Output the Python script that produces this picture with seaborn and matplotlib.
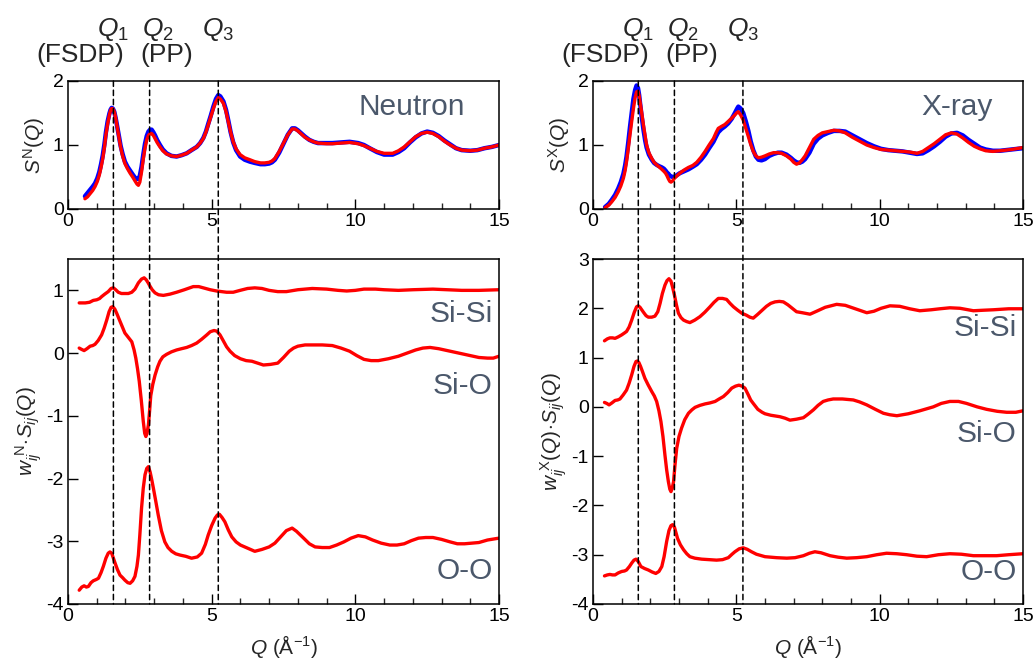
import numpy as np
import pandas as pd
import matplotlib
matplotlib.use("Agg")
import matplotlib.pyplot as plt
import matplotlib.transforms as mtrans
from matplotlib.patches import ConnectionPatch
from matplotlib.ticker import MultipleLocator
import seaborn as sns

# ---------------- data ----------------
# Neutron total structure factor S^N(Q)  (red = model, blue = experiment)
qN_top = [0.59, 0.68, 0.77, 0.86, 0.94, 1.02, 1.09, 1.15, 1.21, 1.27, 1.32, 1.38, 1.44, 1.48, 1.52, 1.56,
          1.61, 1.66, 1.72, 1.78, 1.83, 1.90, 1.98, 2.07, 2.16, 2.25, 2.33, 2.40, 2.45, 2.50, 2.56, 2.62,
          2.68, 2.74, 2.80, 2.86, 2.91, 2.97, 3.03, 3.10, 3.20, 3.30, 3.43, 3.60, 3.78, 3.95, 4.13, 4.30,
          4.48, 4.60, 4.71, 4.80, 4.88, 4.97, 5.06, 5.15, 5.23, 5.30, 5.41, 5.50, 5.58, 5.66, 5.75, 5.85,
          5.99, 6.15, 6.33, 6.50, 6.70, 6.85, 7.00, 7.10, 7.20, 7.35, 7.50, 7.65, 7.80, 7.90, 8.00, 8.10,
          8.25, 8.40, 8.55, 8.70, 9.00, 9.20, 9.50, 9.80, 10.1, 10.3, 10.5, 10.75, 11.0, 11.3, 11.5, 11.7,
          11.9, 12.1, 12.3, 12.5, 12.7, 12.9, 13.1, 13.3, 13.5, 13.7, 14.0, 14.25, 14.5, 14.75, 15.0]
sN_red = [0.16, 0.19, 0.24, 0.29, 0.35, 0.43, 0.53, 0.65, 0.79, 0.97, 1.16, 1.33, 1.47, 1.54, 1.57, 1.565,
          1.52, 1.42, 1.26, 1.10, 0.97, 0.83, 0.71, 0.63, 0.56, 0.50, 0.44, 0.39, 0.37, 0.42, 0.58, 0.78,
          0.95, 1.08, 1.15, 1.18, 1.18, 1.15, 1.10, 1.04, 0.97, 0.91, 0.86, 0.83, 0.82, 0.84, 0.87, 0.92,
          0.97, 1.03, 1.10, 1.20, 1.31, 1.44, 1.57, 1.68, 1.74, 1.72, 1.65, 1.52, 1.36, 1.20, 1.05, 0.94,
          0.85, 0.80, 0.77, 0.74, 0.72, 0.72, 0.73, 0.75, 0.79, 0.90, 1.03, 1.16, 1.25, 1.25, 1.22, 1.18,
          1.12, 1.08, 1.05, 1.03, 1.02, 1.02, 1.03, 1.04, 1.02, 0.99, 0.95, 0.90, 0.87, 0.87, 0.91, 0.97,
          1.05, 1.13, 1.18, 1.20, 1.18, 1.13, 1.06, 1.00, 0.95, 0.92, 0.91, 0.92, 0.95, 0.97, 1.00]
sN_blue = [0.20, 0.25, 0.30, 0.35, 0.40, 0.48, 0.58, 0.70, 0.84, 1.02, 1.20, 1.37, 1.49, 1.55, 1.58, 1.57,
           1.52, 1.42, 1.27, 1.12, 0.99, 0.86, 0.74, 0.66, 0.60, 0.54, 0.49, 0.47, 0.47, 0.52, 0.66, 0.85,
           1.02, 1.14, 1.21, 1.24, 1.24, 1.20, 1.15, 1.08, 1.00, 0.93, 0.87, 0.83, 0.82, 0.84, 0.87, 0.92,
           0.97, 1.03, 1.11, 1.21, 1.33, 1.46, 1.60, 1.72, 1.78, 1.76, 1.68, 1.55, 1.38, 1.20, 1.04, 0.92,
           0.82, 0.77, 0.74, 0.72, 0.70, 0.70, 0.71, 0.73, 0.77, 0.88, 1.02, 1.16, 1.26, 1.26, 1.23, 1.19,
           1.13, 1.08, 1.05, 1.03, 1.03, 1.03, 1.04, 1.05, 1.03, 1.00, 0.95, 0.89, 0.85, 0.85, 0.89, 0.95,
           1.04, 1.12, 1.18, 1.21, 1.19, 1.14, 1.07, 1.01, 0.95, 0.92, 0.91, 0.92, 0.95, 0.97, 1.00]

# X-ray total structure factor S^X(Q)
qX_top = [0.42, 0.55, 0.65, 0.77, 0.88, 0.97, 1.06, 1.12, 1.17, 1.23, 1.29, 1.35, 1.41, 1.47, 1.52, 1.57,
          1.61, 1.64, 1.70, 1.76, 1.82, 1.87, 1.95, 2.05, 2.13, 2.22, 2.30, 2.40, 2.47, 2.53, 2.58, 2.63,
          2.68, 2.72, 2.78, 2.84, 2.93, 3.03, 3.18, 3.33, 3.48, 3.62, 3.77, 3.91, 4.05, 4.20, 4.30, 4.37,
          4.48, 4.60, 4.72, 4.84, 4.95, 5.03, 5.07, 5.15, 5.24, 5.33, 5.42, 5.50, 5.59, 5.68, 5.77, 5.88,
          6.00, 6.15, 6.30, 6.45, 6.58, 6.75, 6.90, 7.00, 7.10, 7.20, 7.30, 7.40, 7.55, 7.70, 7.85, 8.00,
          8.20, 8.40, 8.60, 8.80, 9.05, 9.30, 9.55, 9.80, 10.05, 10.3, 10.55, 10.8, 11.05, 11.3, 11.5, 11.7,
          11.9, 12.1, 12.3, 12.5, 12.7, 12.9, 13.1, 13.3, 13.5, 13.7, 13.95, 14.2, 14.6, 15.0]
sX_red = [0.02, 0.06, 0.11, 0.18, 0.27, 0.36, 0.48, 0.60, 0.74, 0.94, 1.16, 1.37, 1.57, 1.74, 1.83, 1.84,
          1.77, 1.68, 1.50, 1.31, 1.14, 1.00, 0.88, 0.79, 0.73, 0.69, 0.66, 0.62, 0.59, 0.56, 0.52, 0.47,
          0.43, 0.42, 0.44, 0.48, 0.52, 0.56, 0.61, 0.65, 0.68, 0.73, 0.81, 0.90, 1.00, 1.10, 1.20, 1.26,
          1.29, 1.32, 1.37, 1.42, 1.47, 1.51, 1.52, 1.47, 1.39, 1.26, 1.13, 1.01, 0.90, 0.83, 0.80, 0.81,
          0.83, 0.86, 0.88, 0.88, 0.87, 0.83, 0.78, 0.73, 0.70, 0.72, 0.77, 0.83, 0.96, 1.09, 1.15, 1.19,
          1.21, 1.23, 1.22, 1.19, 1.12, 1.06, 1.00, 0.96, 0.93, 0.92, 0.91, 0.90, 0.89, 0.87, 0.90, 0.96,
          1.02, 1.09, 1.16, 1.19, 1.17, 1.11, 1.04, 0.98, 0.94, 0.91, 0.90, 0.91, 0.93, 0.96]
sX_blue = [0.03, 0.08, 0.14, 0.22, 0.32, 0.42, 0.55, 0.68, 0.82, 1.04, 1.28, 1.50, 1.72, 1.86, 1.93, 1.89,
           1.78, 1.66, 1.44, 1.24, 1.07, 0.96, 0.85, 0.77, 0.72, 0.69, 0.67, 0.65, 0.63, 0.60, 0.57, 0.55,
           0.52, 0.51, 0.50, 0.50, 0.53, 0.56, 0.59, 0.62, 0.66, 0.70, 0.77, 0.85, 0.95, 1.05, 1.14, 1.20,
           1.25, 1.29, 1.34, 1.41, 1.50, 1.57, 1.60, 1.57, 1.50, 1.37, 1.22, 1.06, 0.92, 0.82, 0.77, 0.76,
           0.78, 0.83, 0.86, 0.88, 0.88, 0.85, 0.80, 0.76, 0.73, 0.72, 0.74, 0.78, 0.88, 1.02, 1.10, 1.15,
           1.19, 1.22, 1.22, 1.21, 1.15, 1.09, 1.03, 0.98, 0.94, 0.92, 0.91, 0.90, 0.88, 0.86, 0.87, 0.92,
           0.98, 1.05, 1.13, 1.18, 1.19, 1.15, 1.08, 1.02, 0.96, 0.93, 0.91, 0.91, 0.93, 0.95]

# Neutron-weighted partials w_ij^N * S_ij(Q)
qN_sisi = [0.39, 0.60, 0.75, 0.88, 1.00, 1.10, 1.17, 1.28, 1.40, 1.50, 1.58, 1.66, 1.75, 1.86, 1.98, 2.10,
           2.22, 2.33, 2.45, 2.56, 2.65, 2.72, 2.79, 2.85, 2.93, 3.03, 3.15, 3.32, 3.55, 3.78, 4.05, 4.36,
           4.55, 4.71, 4.95, 5.17, 5.52, 5.75, 5.99, 6.25, 6.50, 6.75, 7.00, 7.30, 7.60, 8.00, 8.50, 9.00,
           9.40, 9.70, 10.0, 10.3, 10.7, 11.0, 11.5, 12.0, 12.7, 13.2, 13.7, 14.3, 15.0]
wN_sisi = [0.80, 0.80, 0.81, 0.84, 0.85, 0.87, 0.90, 0.94, 0.98, 1.03, 1.04, 1.01, 0.97, 0.95, 0.95, 0.95,
           0.97, 1.02, 1.12, 1.18, 1.20, 1.17, 1.12, 1.07, 1.01, 0.96, 0.93, 0.92, 0.94, 0.97, 1.01, 1.06,
           1.06, 1.04, 1.01, 0.99, 0.97, 0.97, 1.00, 1.03, 1.04, 1.03, 1.00, 0.98, 0.98, 1.01, 1.03, 1.02,
           1.00, 0.99, 1.00, 1.02, 1.02, 1.01, 1.00, 1.01, 1.02, 1.01, 1.00, 1.00, 1.01]
qN_sio = [0.39, 0.47, 0.56, 0.66, 0.77, 0.86, 0.94, 1.05, 1.17, 1.26, 1.35, 1.43, 1.50, 1.56, 1.63, 1.70,
          1.78, 1.88, 1.98, 2.10, 2.22, 2.30, 2.36, 2.42, 2.48, 2.55, 2.62, 2.67, 2.71, 2.75, 2.80, 2.84,
          2.88, 2.95, 3.03, 3.12, 3.20, 3.30, 3.43, 3.60, 3.78, 3.95, 4.13, 4.30, 4.48, 4.65, 4.83, 4.95,
          5.08, 5.18, 5.29, 5.40, 5.52, 5.64, 5.80, 6.00, 6.20, 6.40, 6.60, 6.80, 7.05, 7.30, 7.50, 7.70,
          7.85, 8.00, 8.25, 8.50, 8.85, 9.20, 9.50, 9.80, 10.05, 10.3, 10.55, 10.8, 11.15, 11.5, 11.8, 12.1,
          12.35, 12.6, 12.9, 13.2, 13.6, 14.0, 14.3, 14.6, 14.8, 15.0]
wN_sio = [0.08, 0.06, 0.04, 0.07, 0.11, 0.12, 0.14, 0.20, 0.29, 0.40, 0.53, 0.66, 0.73, 0.74, 0.70, 0.63,
          0.54, 0.43, 0.32, 0.25, 0.18, 0.05, -0.08, -0.25, -0.45, -0.75, -1.09, -1.28, -1.33, -1.28, -1.14, -0.92,
          -0.68, -0.50, -0.35, -0.22, -0.13, -0.06, -0.02, 0.02, 0.05, 0.07, 0.09, 0.12, 0.16, 0.22, 0.29, 0.34,
          0.36, 0.35, 0.29, 0.20, 0.10, 0.03, -0.04, -0.09, -0.12, -0.13, -0.16, -0.19, -0.18, -0.16, -0.07, 0.03,
          0.08, 0.11, 0.13, 0.13, 0.13, 0.12, 0.08, 0.03, -0.04, -0.10, -0.12, -0.12, -0.09, -0.05, 0.00, 0.05,
          0.08, 0.09, 0.07, 0.04, 0.00, -0.04, -0.07, -0.08, -0.08, -0.05]
qN_oo = [0.39, 0.48, 0.56, 0.64, 0.71, 0.80, 0.88, 0.98, 1.06, 1.15, 1.23, 1.32, 1.40, 1.46, 1.52, 1.58,
         1.64, 1.72, 1.81, 1.90, 1.98, 2.08, 2.16, 2.25, 2.33, 2.40, 2.45, 2.50, 2.56, 2.62, 2.68, 2.74,
         2.80, 2.86, 2.92, 2.97, 3.05, 3.14, 3.25, 3.37, 3.48, 3.61, 3.75, 3.90, 4.10, 4.30, 4.50, 4.65,
         4.78, 4.88, 5.00, 5.12, 5.20, 5.27, 5.36, 5.46, 5.58, 5.70, 5.85, 6.00, 6.25, 6.50, 6.75, 7.00,
         7.20, 7.40, 7.60, 7.80, 7.95, 8.20, 8.40, 8.60, 8.85, 9.10, 9.35, 9.60, 9.85, 10.1, 10.35, 10.6,
         10.9, 11.2, 11.45, 11.7, 11.95, 12.2, 12.45, 12.7, 13.0, 13.3, 13.55, 13.8, 14.05, 14.3, 14.6, 15.0]
wN_oo = [-3.78, -3.73, -3.71, -3.73, -3.72, -3.66, -3.63, -3.61, -3.59, -3.50, -3.40, -3.27, -3.19, -3.17, -3.19, -3.27,
         -3.35, -3.45, -3.54, -3.58, -3.62, -3.66, -3.67, -3.63, -3.56, -3.40, -3.22, -2.90, -2.47, -2.15, -1.94, -1.84,
         -1.81, -1.90, -2.03, -2.15, -2.35, -2.58, -2.83, -3.01, -3.10, -3.16, -3.20, -3.22, -3.24, -3.27, -3.25, -3.19,
         -3.05, -2.90, -2.75, -2.63, -2.58, -2.57, -2.62, -2.69, -2.82, -2.93, -3.01, -3.06, -3.11, -3.16, -3.13, -3.09,
         -3.03, -2.93, -2.83, -2.79, -2.84, -2.95, -3.04, -3.09, -3.10, -3.10, -3.06, -3.01, -2.95, -2.91, -2.93, -2.98,
         -3.03, -3.06, -3.06, -3.04, -2.99, -2.95, -2.94, -2.94, -2.97, -3.01, -3.04, -3.04, -3.03, -3.02, -2.98, -2.95]

# X-ray-weighted partials w_ij^X(Q) * S_ij(Q)
qX_sisi = [0.40, 0.50, 0.59, 0.68, 0.77, 0.88, 1.00, 1.10, 1.17, 1.26, 1.35, 1.44, 1.52, 1.58, 1.64, 1.70,
           1.76, 1.85, 1.93, 2.05, 2.16, 2.26, 2.34, 2.42, 2.51, 2.58, 2.65, 2.72, 2.78, 2.84, 2.91, 2.98,
           3.07, 3.16, 3.27, 3.38, 3.55, 3.73, 3.90, 4.08, 4.22, 4.37, 4.52, 4.66, 4.78, 4.90, 5.05, 5.19,
           5.35, 5.47, 5.59, 5.75, 5.90, 6.05, 6.20, 6.35, 6.50, 6.64, 6.80, 6.95, 7.10, 7.30, 7.57, 7.80,
           8.10, 8.50, 8.80, 9.10, 9.35, 9.55, 9.80, 10.05, 10.36, 10.7, 11.05, 11.4, 11.8, 12.1, 12.45, 12.8,
           13.27, 13.6, 13.97, 14.5, 15.0]
wX_sisi = [1.34, 1.38, 1.40, 1.40, 1.39, 1.42, 1.46, 1.50, 1.53, 1.62, 1.76, 1.92, 2.03, 2.05, 2.02, 1.97,
           1.92, 1.85, 1.82, 1.82, 1.84, 1.93, 2.10, 2.30, 2.47, 2.56, 2.60, 2.55, 2.42, 2.27, 2.07, 1.90,
           1.81, 1.76, 1.73, 1.71, 1.76, 1.83, 1.92, 2.03, 2.12, 2.20, 2.20, 2.18, 2.10, 2.03, 1.96, 1.90,
           1.86, 1.82, 1.80, 1.88, 1.96, 2.04, 2.10, 2.13, 2.14, 2.13, 2.07, 2.00, 1.93, 1.91, 1.88, 1.94,
           2.02, 2.08, 2.06, 2.00, 1.95, 1.91, 1.94, 2.00, 2.05, 2.04, 1.99, 1.95, 1.97, 1.99, 2.01, 2.00,
           1.95, 1.96, 1.97, 1.99, 1.99]
qX_sio = [0.40, 0.48, 0.56, 0.66, 0.77, 0.86, 0.94, 1.05, 1.17, 1.26, 1.35, 1.43, 1.50, 1.55, 1.60, 1.66,
          1.73, 1.81, 1.92, 2.05, 2.14, 2.22, 2.30, 2.37, 2.44, 2.51, 2.57, 2.63, 2.68, 2.72, 2.76, 2.81,
          2.86, 2.92, 3.00, 3.09, 3.20, 3.33, 3.45, 3.56, 3.73, 3.91, 4.08, 4.26, 4.40, 4.55, 4.70, 4.84,
          4.97, 5.09, 5.20, 5.30, 5.42, 5.50, 5.59, 5.75, 5.90, 6.00, 6.20, 6.52, 6.70, 6.87, 7.10, 7.34,
          7.50, 7.69, 7.85, 8.03, 8.20, 8.38, 8.70, 9.08, 9.30, 9.55, 9.85, 10.13, 10.35, 10.6, 11.0, 11.4,
          11.87, 12.15, 12.45, 12.75, 13.03, 13.4, 13.73, 14.1, 14.43, 14.75, 15.0]
wX_sio = [0.09, 0.07, 0.04, 0.08, 0.13, 0.14, 0.16, 0.24, 0.34, 0.48, 0.65, 0.82, 0.92, 0.93, 0.90, 0.82,
          0.71, 0.58, 0.45, 0.31, 0.22, 0.11, -0.08, -0.30, -0.60, -0.98, -1.28, -1.52, -1.67, -1.72, -1.66, -1.52,
          -1.18, -0.84, -0.60, -0.43, -0.26, -0.13, -0.06, -0.01, 0.03, 0.06, 0.08, 0.11, 0.16, 0.21, 0.29, 0.38,
          0.42, 0.44, 0.42, 0.38, 0.24, 0.14, 0.07, -0.05, -0.11, -0.14, -0.17, -0.20, -0.23, -0.27, -0.25, -0.22,
          -0.15, -0.06, 0.03, 0.11, 0.14, 0.16, 0.16, 0.14, 0.10, 0.04, -0.05, -0.13, -0.16, -0.18, -0.14, -0.08,
          0.00, 0.07, 0.11, 0.11, 0.07, 0.00, -0.05, -0.09, -0.11, -0.11, -0.08]
qX_oo = [0.40, 0.50, 0.59, 0.68, 0.77, 0.88, 1.00, 1.10, 1.17, 1.27, 1.35, 1.43, 1.50, 1.58, 1.67, 1.80,
         1.93, 2.06, 2.19, 2.30, 2.40, 2.48, 2.57, 2.65, 2.72, 2.78, 2.84, 2.95, 3.05, 3.16, 3.27, 3.38,
         3.55, 3.79, 4.05, 4.31, 4.52, 4.72, 4.85, 4.95, 5.10, 5.24, 5.38, 5.53, 5.70, 5.88, 6.00, 6.40,
         6.76, 7.05, 7.34, 7.55, 7.74, 7.95, 8.27, 8.55, 8.85, 9.20, 9.55, 9.90, 10.24, 10.6, 10.94, 11.3,
         11.64, 12.05, 12.45, 12.85, 13.27, 13.7, 14.08, 14.5, 15.0]
wX_oo = [-3.43, -3.41, -3.40, -3.41, -3.41, -3.37, -3.34, -3.33, -3.31, -3.24, -3.17, -3.11, -3.09, -3.14, -3.24, -3.28,
         -3.31, -3.35, -3.38, -3.34, -3.24, -3.04, -2.73, -2.51, -2.41, -2.39, -2.44, -2.67, -2.80, -2.90, -2.98, -3.04,
         -3.07, -3.09, -3.10, -3.11, -3.10, -3.06, -2.99, -2.94, -2.88, -2.86, -2.89, -2.94, -2.99, -3.02, -3.04, -3.06,
         -3.07, -3.06, -3.02, -2.97, -2.94, -2.96, -3.02, -3.05, -3.07, -3.06, -3.04, -3.00, -2.97, -2.98, -3.00, -3.03,
         -3.04, -3.00, -2.98, -2.99, -3.02, -3.02, -3.02, -3.00, -2.98]

# Marker lines and labels
q_marks = [1.58, 2.84, 5.23]
q_mark_labels = [r"$Q_1$", r"$Q_2$", r"$Q_3$"]
q_mark_sub = ["(FSDP)", "(PP)", ""]
partial_names = ["Si-Si", "Si-O", "O-O"]

# ---------------- style ----------------
sns.set_style("ticks")
plt.rcParams["font.family"] = ["Liberation Sans", "DejaVu Sans"]
plt.rcParams["mathtext.fontset"] = "custom"
plt.rcParams["mathtext.rm"] = "Liberation Sans"
plt.rcParams["mathtext.it"] = "Liberation Sans:italic"
plt.rcParams["mathtext.bf"] = "Liberation Sans:bold"
plt.rcParams["axes.unicode_minus"] = False

LABEL_COLOR = "#4b586b"
RED = "#ff0000"
BLUE = "#0000ff"

fig = plt.figure(figsize=(10.36, 6.69), dpi=100)
W, H = 1036, 669
def box(l, r, t, b):
    return [l / W, 1 - b / H, (r - l) / W, (b - t) / H]

axTL = fig.add_axes(box(68, 499, 81, 209))
axBL = fig.add_axes(box(68, 499, 259, 604))
axTR = fig.add_axes(box(593, 1023, 81, 209))
axBR = fig.add_axes(box(593, 1023, 259, 604))

def draw(ax, q, y, color, lw):
    df = pd.DataFrame({"Q": q, "S": y})
    sns.lineplot(data=df, x="Q", y="S", ax=ax, color=color, lw=lw, sort=False,
                 estimator=None, legend=False, solid_joinstyle="round",
                 solid_capstyle="round")

draw(axTL, qN_top, sN_blue, BLUE, 3.2)
draw(axTL, qN_top, sN_red, RED, 2.4)
draw(axTR, qX_top, sX_blue, BLUE, 3.2)
draw(axTR, qX_top, sX_red, RED, 2.4)
for q, w in [(qN_sisi, wN_sisi), (qN_sio, wN_sio), (qN_oo, wN_oo)]:
    draw(axBL, q, w, RED, 2.4)
for q, w in [(qX_sisi, wX_sisi), (qX_sio, wX_sio), (qX_oo, wX_oo)]:
    draw(axBR, q, w, RED, 2.4)

for ax in [axTL, axBL, axTR, axBR]:
    ax.set_xlim(0, 15)
    ax.xaxis.set_major_locator(MultipleLocator(5))
    ax.xaxis.set_minor_locator(MultipleLocator(1))
    ax.yaxis.set_major_locator(MultipleLocator(1))
    ax.tick_params(axis="both", which="major", direction="in", length=7, width=1,
                   labelsize=14, color="black", labelcolor="black", pad=3)
    ax.tick_params(axis="x", which="minor", direction="in", length=4.5, width=1)
    for s in ax.spines.values():
        s.set_linewidth(1.1)
        s.set_color("black")
    ax.set_xlabel("")
    ax.set_ylabel("")

axTL.set_ylim(0, 2)
axTR.set_ylim(0, 2)
axBL.set_ylim(-4, 1.5)
axBR.set_ylim(-4, 3)

axTL.set_ylabel(r"$S^{\mathrm{N}}(Q)$", fontsize=15, labelpad=4)
axTR.set_ylabel(r"$S^{\mathrm{X}}(Q)$", fontsize=15, labelpad=4)
axBL.set_ylabel(r"$w_{ij}^{\ \mathrm{N}}\!\cdot\! S_{ij}(Q)$", fontsize=15, labelpad=2)
axBR.set_ylabel(r"$w_{ij}^{\ \mathrm{X}}(Q)\!\cdot\! S_{ij}(Q)$", fontsize=15, labelpad=2)
for ax in [axBL, axBR]:
    ax.set_xlabel(r"$Q$ (Å$^{\mathrm{-1}}$)", fontsize=15, labelpad=6)

axTL.text(13.8, 1.6, "Neutron", fontsize=21.5, color=LABEL_COLOR, ha="right", va="center")
axTR.text(13.95, 1.6, "X-ray", fontsize=21.5, color=LABEL_COLOR, ha="right", va="center")

for ax, ys in [(axBL, [0.63, -0.53, -3.47]), (axBR, [1.61, -0.55, -3.36])]:
    for name, yv in zip(partial_names, ys):
        ax.text(14.78, yv, name, fontsize=21.5, color=LABEL_COLOR, ha="right", va="center")

# dashed marker lines spanning both panels, labels above
for axT, axB in [(axTL, axBL), (axTR, axBR)]:
    for q in q_marks:
        con = ConnectionPatch(xyA=(q, axT.get_ylim()[1]), coordsA=axT.transData,
                              xyB=(q, axB.get_ylim()[0]), coordsB=axB.transData,
                              color="black", lw=1.1, linestyle=(0, (3.5, 2.5)), zorder=0.5)
        fig.add_artist(con)
    tr = mtrans.blended_transform_factory(axT.transData, fig.transFigure)
    for q, lab, o in zip(q_marks, q_mark_labels, [0.0, 0.3, 0.0]):
        axT.text(q + o, 1 - 36 / H, lab, transform=tr, fontsize=19, ha="center",
                 va="baseline")
    for q, sub, o in zip(q_marks, q_mark_sub, [-1.15, 0.6, 0.0]):
        if sub:
            axT.text(q + o, 1 - 55 / H, sub, transform=tr, fontsize=19, ha="center",
                     va="center")

fig.savefig("out.png", dpi=100, facecolor="white")
